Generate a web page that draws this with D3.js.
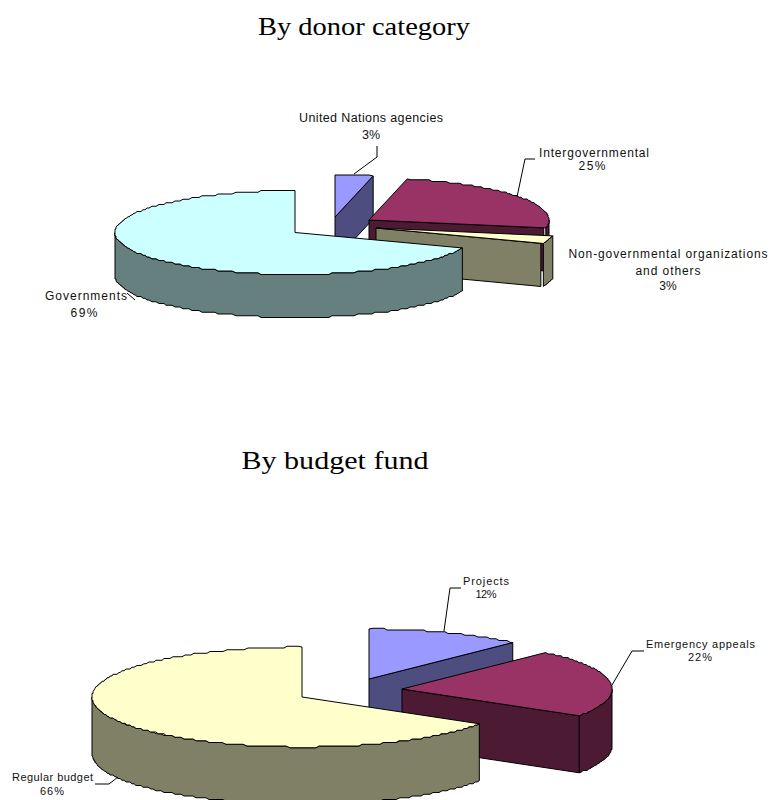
<!DOCTYPE html>
<html><head><meta charset="utf-8">
<script src="https://cdnjs.cloudflare.com/ajax/libs/d3/7.8.5/d3.min.js"></script>
<style>html,body{margin:0;padding:0;background:#fff}svg{display:block}</style>
</head><body><div id="c"></div>
<script>
// Data (clockwise from 12 o'clock)
const donorCategories = ["United Nations agencies","Intergovernmental","Non-governmental organizations and others","Governments"];
const donorValues = [3.4,24.6,3,69];
const donorTitle = "By donor category";
const fundCategories = ["Projects","Emergency appeals","Regular budget"];
const fundValues = [12,22,66];
const fundTitle = "By budget fund";
const topColors = {donor:["#9999FF","#993366","#FFFFCC","#CCFFFF"],fund:["#9999FF","#993366","#FFFFCC"]};
const sideColors = {donor:["#4D4D80","#4D1A33","#808066","#668080"],fund:["#4D4D80","#4D1A33","#808066"]};

const W=772,H=800;
const svg=d3.select("#c").append("svg").attr("width",W).attr("height",H).attr("viewBox",[0,0,W,H]);
svg.append("rect").attr("width",W).attr("height",H).attr("fill","#fff");

const line=d3.line().curve(d3.curveLinearClosed);
const TAU=Math.PI*2;

function draw3dPie(cfg){
  const g=svg.append("g");
  const slices=d3.pie().sort(null).startAngle(0).endAngle(TAU)(cfg.values);
  const sx=d3.scaleLinear([0,1],[0,cfg.rx]), sy=d3.scaleLinear([0,1],[0,cfg.ry]);
  const q=v=>Math.round(v/cfg.step)*cfg.step;
  const P=(s,a,jag)=>{
    const o=cfg.apex[s.index];
    const x=sx(Math.sin(a)), y=-sy(Math.cos(a));
    return [o[0]+(jag?Math.round(x):x), o[1]+(jag?q(y):y)];
  };
  const arcPts=(s,a0,a1)=>{
    const n=Math.max(1,Math.round((a1-a0)/(cfg.da*Math.PI/180)));
    return d3.range(n+1).map(i=>{const a=a0+(a1-a0)*i/n;return P(s,a,i>0&&i<n);});
  };
  const down=p=>[p[0],p[1]+cfg.depth];
  const face=(pts,fill)=>g.append("path").attr("d",line(pts)).attr("fill",fill)
     .attr("stroke","#000").attr("stroke-width",1).attr("stroke-linejoin","round");
  slices.forEach(s=>{
    const i=s.index,o=cfg.apex[i],a0=s.startAngle,a1=s.endAngle;
    const side=cfg.side[i];
    if(Math.sin(a0)<-1e-6){const p=P(s,a0);face([o,p,down(p),down(o)],side);}
    if(Math.sin(a1)>1e-6){
      const p=P(s,a1), t=[p[0]-cfg.wallGap[i],p[1]];
      face([o,t,down(t),down(o)],side);
    }
    const v0=Math.max(a0,Math.PI/2),v1=Math.min(a1,Math.PI*1.5);
    if(v1>v0){const arc=arcPts(s,v0,v1);face(arc.concat(arc.map(down).reverse()),side);}
    face([o].concat(arcPts(s,a0,a1)),cfg.top[i]);
  });
  cfg.leaders.forEach(l=>g.append("path").attr("d",d3.line()(l)).attr("fill","none").attr("stroke","#000").attr("stroke-width",1));
  cfg.labels.forEach(l=>{
    const t=g.append("text").attr("x",l.x).attr("y",l.y).attr("text-anchor","middle")
      .attr("font-family","'Liberation Sans',Arial,sans-serif").attr("font-size",l.size).attr("fill","#111").text(l.text);
    if(l.w)t.attr("textLength",l.w).attr("lengthAdjust","spacing");
  });
}

function title(text,x,y,w){
  svg.append("text").attr("x",x).attr("y",y).attr("text-anchor","middle")
    .attr("font-family","'Liberation Serif','Times New Roman',serif").attr("font-size",25).attr("fill","#000")
    .attr("textLength",w).attr("lengthAdjust","spacingAndGlyphs").text(text);
}
title(donorTitle,364,34.5,212);
title(fundTitle,335,468.5,187);

const pct=(vals,i)=>Math.round(vals[i])+"%";

draw3dPie({
  values:donorValues,rx:180,ry:42,depth:43,step:1.75,da:1.2,wallGap:[0,2,2.5,0],
  apex:[[335,217],[369,220],[376,228],[295,232.5]],
  top:topColors.donor,side:sideColors.donor,
  leaders:[[[377,146],[377,157],[354,174]],[[535,159],[525,159],[517,197]],[[127,293],[135,300]]],
  labels:[
   {x:371,y:122,size:12.5,w:144,text:donorCategories[0]},{x:371,y:139,size:12.5,text:pct(donorValues,0)},
   {x:594,y:157,size:12,w:110,text:donorCategories[1]},{x:592,y:170,size:12,w:27,text:pct(donorValues,1)},
   {x:668,y:258,size:12,w:199,text:"Non-governmental organizations"},{x:668,y:275,size:12,w:65,text:"and others"},{x:668,y:290,size:12,text:pct(donorValues,2)},
   {x:86,y:300,size:12,w:82,text:donorCategories[3]},{x:84,y:317,size:12,w:27,text:pct(donorValues,3)}
  ]
});
draw3dPie({
  values:fundValues,rx:210,ry:50,depth:57,step:1.75,da:1,wallGap:[0,0,0],
  apex:[[369,679],[402,689],[302,697]],
  top:topColors.fund,side:sideColors.fund,
  leaders:[[[461,588],[450,588],[444,631]],[[644,651],[632,651],[612,685]],[[95,784],[109,784],[118,777]]],
  labels:[
   {x:486,y:585,size:11,w:46,text:fundCategories[0]},{x:486,y:598,size:11,w:21,text:pct(fundValues,0)},
   {x:700.5,y:648,size:11,w:109,text:fundCategories[1]},{x:700,y:661,size:11,w:24,text:pct(fundValues,1)},
   {x:52.5,y:781,size:11,w:81,text:fundCategories[2]},{x:52,y:795,size:11,w:24,text:pct(fundValues,2)}
  ]
});
</script></body></html>
